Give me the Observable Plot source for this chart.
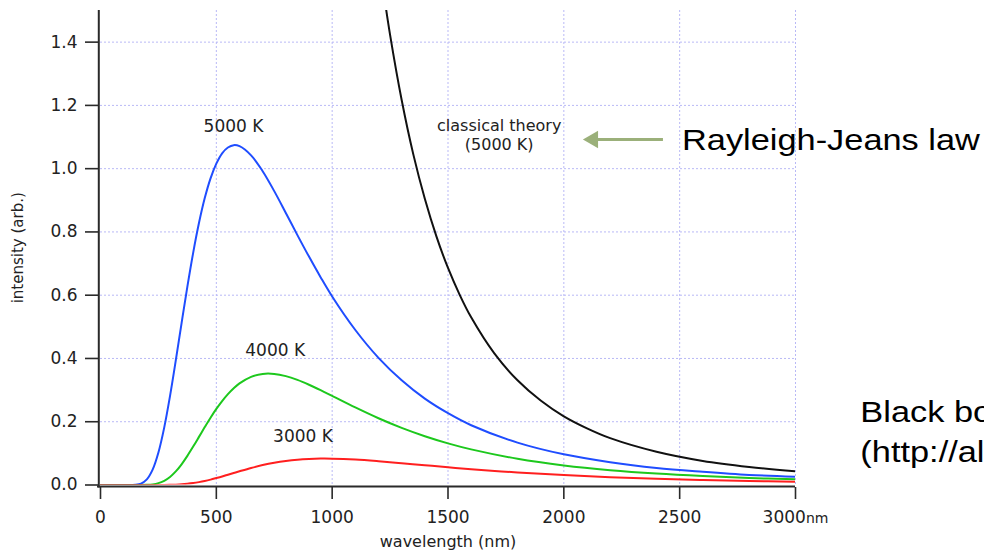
<!DOCTYPE html>
<html>
<head>
<meta charset="utf-8">
<script src="https://cdn.jsdelivr.net/npm/d3@7"></script>
<script src="https://cdn.jsdelivr.net/npm/@observablehq/plot@0.6"></script>
<style>
  html, body { margin: 0; padding: 0; background: #fff; overflow: hidden; }
  svg { display: block; }
</style>
</head>
<body>
<div id="chart"></div>
<script>
// Wavelengths (nm) sampled for the three black-body curves
const wavelengths = [0, 100, 150, 175, 200, 225, 250, 275, 300, 325, 350, 375, 400, 425, 450, 475, 500, 525, 550, 575, 600, 650, 700, 750, 800, 850, 900, 950, 1000, 1100, 1200, 1300, 1400, 1500, 1600, 1800, 2000, 2200, 2400, 2600, 2800, 3000];
const intensity5000 = [0, 0, 0.0006, 0.0044, 0.0176, 0.0484, 0.1027, 0.1815, 0.281, 0.394, 0.512, 0.627, 0.734, 0.828, 0.907, 0.9695, 1.016, 1.0486, 1.067, 1.0744, 1.071, 1.042, 0.992, 0.929, 0.860, 0.790, 0.722, 0.657, 0.596, 0.490, 0.402, 0.331, 0.273, 0.227, 0.189, 0.134, 0.097, 0.072, 0.054, 0.042, 0.032, 0.026];
const intensity4000 = [0, 0, 0, 0, 0.0005, 0.002, 0.0058, 0.0133, 0.0255, 0.043, 0.0655, 0.0921, 0.1214, 0.1521, 0.183, 0.2128, 0.2405, 0.2655, 0.2874, 0.306, 0.3212, 0.3419, 0.3511, 0.3511, 0.3441, 0.3322, 0.317, 0.2999, 0.2818, 0.2453, 0.2111, 0.1806, 0.1542, 0.1317, 0.1126, 0.083, 0.062, 0.047, 0.0361, 0.0282, 0.0222, 0.0178];
const intensity3000 = [0, 0, 0, 0, 0, 0, 0, 0.0002, 0.0005, 0.0011, 0.0021, 0.0038, 0.0061, 0.0091, 0.0127, 0.017, 0.0219, 0.027, 0.0325, 0.038, 0.0434, 0.0538, 0.063, 0.0705, 0.0762, 0.0802, 0.0825, 0.0835, 0.0833, 0.0804, 0.0752, 0.069, 0.0625, 0.0561, 0.0501, 0.0396, 0.0313, 0.0247, 0.0197, 0.0158, 0.0128, 0.0104];

// Classical (Rayleigh-Jeans) curve at 5000 K
const classicalWavelengths = [1200, 1225, 1250, 1300, 1350, 1400, 1450, 1500, 1550, 1600, 1700, 1800, 1900, 2000, 2100, 2200, 2400, 2600, 2800, 3000];
const classical5000 = [1.676, 1.543, 1.423, 1.217, 1.046, 0.905, 0.786, 0.686, 0.602, 0.530, 0.416, 0.331, 0.267, 0.217, 0.179, 0.148, 0.105, 0.076, 0.057, 0.043];

const xTicks = [0, 500, 1000, 1500, 2000, 2500, 3000];
const yTicks = [0, 0.2, 0.4, 0.6, 0.8, 1.0, 1.2, 1.4];
const xGrid = [500, 1000, 1500, 2000, 2500, 3000];
const yGrid = [0.2, 0.4, 0.6, 0.8, 1.0, 1.2, 1.4];

const curveLabels = ["5000 K", "4000 K", "3000 K"];

const rows = (xs, ys) => xs.map((x, i) => ({x, y: ys[i]}));

const gridColor = "#b9b9f6";
const axisColor = "#2a2a2a";
const smooth = "catmull-rom";

const chart = Plot.plot({
  width: 984,
  height: 551,
  marginTop: 10,
  marginRight: 189,
  marginBottom: 66.5,
  marginLeft: 100,
  x: {domain: [0, 3000]},
  y: {domain: [0, 1.5]},
  style: {fontFamily: "DejaVu Sans", fontSize: "17px", color: "#222", background: "#fff", overflow: "hidden"},
  marks: [
    Plot.gridX(xGrid, {stroke: gridColor, strokeOpacity: 1, strokeWidth: 1, strokeDasharray: "2,2"}),
    Plot.gridY(yGrid, {stroke: gridColor, strokeOpacity: 1, strokeWidth: 1, strokeDasharray: "2,2"}),
    // axis lines
    Plot.ruleX([0], {dx: -1.7, stroke: axisColor, strokeWidth: 2, insetBottom: -3}),
    Plot.ruleY([0], {dy: 1.5, stroke: axisColor, strokeWidth: 2, insetLeft: -3}),
    Plot.axisY({ticks: yTicks, tickSize: 13, tickPadding: 8, dx: -2, tickFormat: d3.format(".1f"), label: null, fontSize: 17, stroke: axisColor, strokeWidth: 1.6}),
    Plot.axisX({ticks: xTicks, tickSize: 12, tickPadding: 11, dy: 2.5, tickFormat: d => d === 3000 ? "3000nm" : String(d), label: null, fontSize: 17, stroke: axisColor, strokeWidth: 1.6}),
    // curves
    Plot.line(rows(classicalWavelengths, classical5000), {x: "x", y: "y", stroke: "#111", strokeWidth: 2, curve: smooth, clip: true}),
    Plot.line(rows(wavelengths, intensity5000), {x: "x", y: "y", stroke: "#1f4dff", strokeWidth: 2, curve: smooth, clip: true}),
    Plot.line(rows(wavelengths, intensity4000), {x: "x", y: "y", stroke: "#1dc81d", strokeWidth: 2, curve: smooth, clip: true}),
    Plot.line(rows(wavelengths, intensity3000), {x: "x", y: "y", stroke: "#ff1f1f", strokeWidth: 2, curve: smooth, clip: true}),
    // curve labels
    Plot.text([curveLabels[0]], {x: 574, y: 1.1325, text: d => d, fontSize: 17}),
    Plot.text([curveLabels[1]], {x: 754, y: 0.4243, text: d => d, fontSize: 17}),
    Plot.text([curveLabels[2]], {x: 874, y: 0.1546, text: d => d, fontSize: 17}),
    Plot.text(["classical theory"], {x: 1721, y: 1.1366, text: d => d, fontSize: 16}),
    Plot.text(["(5000 K)"], {x: 1721, y: 1.0765, text: d => d, fontSize: 16}),
    // axis titles
    Plot.text(["intensity (arb.)"], {frameAnchor: "left", dx: -82, rotate: -90, textAnchor: "middle", lineAnchor: "middle", text: d => d, fontSize: 15}),
    Plot.text(["wavelength (nm)"], {frameAnchor: "bottom", dy: 57, textAnchor: "middle", lineAnchor: "middle", text: d => d, fontSize: 16}),
    // arrow
    Plot.ruleY([1.0923], {x1: 2140, x2: 2430, stroke: "#9bb07a", strokeWidth: 3}),
    Plot.dot([{x: 2126, y: 1.0923}], {x: "x", y: "y", symbol: "triangle", rotate: -90, r: 6.5, fill: "#9bb07a", stroke: null}),
    // annotations on the right
    Plot.text(["Rayleigh-Jeans law"], {x: 2510, y: 1.0895, text: d => d, textAnchor: "start", fontFamily: "Liberation Sans", fontSize: 29.5, fill: "#000"}),
    Plot.text(["Black body radiation"], {x: 3280, y: 0.2305, text: d => d, textAnchor: "start", fontFamily: "Liberation Sans", fontSize: 29.5, fill: "#000"}),
    Plot.text(["(http://alpha.physics)"], {x: 3280, y: 0.1027, text: d => d, textAnchor: "start", fontFamily: "Liberation Sans", fontSize: 29.5, fill: "#000"})
  ]
});

document.getElementById("chart").appendChild(chart);

// horizontal stretch for the large annotation texts
const stretched = new Set(["Rayleigh-Jeans law", "Black body radiation", "(http://alpha.physics)"]);
d3.select(chart).selectAll("text").each(function() {
  if (stretched.has(this.textContent)) {
    const t = this.getAttribute("transform") || "";
    this.setAttribute("transform", t + " scale(1.165,1)");
  }
  if (this.textContent === "3000nm") {
    const el = d3.select(this);
    el.text("3000");
    el.append("tspan").attr("font-size", 14).text("nm");
  }
});
</script>
</body>
</html>
